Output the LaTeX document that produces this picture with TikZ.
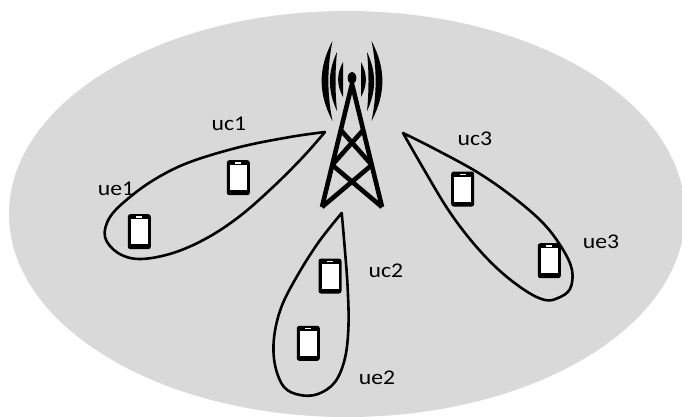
\documentclass[tikz,border=0pt]{standalone}
\usepackage{fontspec}
\setmainfont{Carlito}
\definecolor{cellgray}{RGB}{217,217,217}
\newcommand\lbltext[1]{\scalebox{1.13}[1]{#1}}
\begin{document}
\begin{tikzpicture}[x=1pt,y=-1pt,
  lobe/.style={line width=2.6pt, line join=round, line cap=round},
  towerline/.style={line width=4.6pt, line cap=butt},
  lbl/.style={anchor=base, inner sep=0pt, font=\fontsize{21}{25}\selectfont},
  handset/.pic={
    \fill[black, rounded corners=2.5pt] (-11.5,-17.5) rectangle (11.5,17.5);
    \fill[white] (-8.5,-12.5) rectangle (8.5,12.5);
    \fill[white] (-3,-15.4) rectangle (3,-14.0);
  }]
\useasboundingbox (0,0) rectangle (682,416);

% coverage area of the cell
\fill[cellgray] (347,214) ellipse [x radius=338pt, y radius=203pt];

% base station: lattice tower
\draw[towerline, line join=round] (322,207) -- (352,84) -- (382,207);
\draw[towerline] (340.8,130) -- (371.8,165);
\draw[towerline] (363.2,130) -- (332.2,165);
\draw[towerline] (332.2,165) -- (382,207);
\draw[towerline] (371.8,165) -- (322,207);
\fill (352,78) ellipse [x radius=4.3pt, y radius=6.2pt];

% radio waves on both sides of the antenna
\foreach \s in {1,-1}{
  \fill ({352+\s*(-19.5)},41) .. controls ({352+\s*(-34)},68) and ({352+\s*(-34)},94) .. ({352+\s*(-19.5)},121)
        .. controls ({352+\s*(-25)},94) and ({352+\s*(-25)},68) .. cycle;
  \fill ({352+\s*(-15)},52) .. controls ({352+\s*(-24.5)},72) and ({352+\s*(-24.5)},91) .. ({352+\s*(-15)},111)
        .. controls ({352+\s*(-17)},91) and ({352+\s*(-17)},72) .. cycle;
  \fill ({352+\s*(-9)},62) .. controls ({352+\s*(-15.5)},74) and ({352+\s*(-15.5)},85) .. ({352+\s*(-9)},97)
        .. controls ({352+\s*(-9)},85) and ({352+\s*(-9)},74) .. cycle;
}

% beam 1
\draw[lobe] plot[smooth, tension=0.6] coordinates {
  (325,132) (290,137) (240,147) (190,162) (157,178) (130,197) (110,217)
  (105,237) (118,253) (140,259) (173,253) (207,238) (240,216) (273,187)
  (303,157) (325,132)};
% beam 2
\draw[lobe] plot[smooth, tension=0.6] coordinates {
  (341.7,213) (344.5,245) (347.5,285) (348.5,325) (345,358) (335,382)
  (318,394) (300,395) (284,387) (275,365) (274,338) (281,308) (296,278)
  (318,243) (341.7,213)};
% beam 3
\draw[lobe] plot[smooth, tension=0.6] coordinates {
  (403,133) (433,148) (477,172) (513,197) (543,223) (562,248) (572,270)
  (570,289) (558,298) (545,300) (526,291) (500,271) (474,244) (449,211)
  (426,173) (403,133)};

% user equipment
\pic at (238.3,177.7) {handset};
\pic at (139.3,231.7) {handset};
\pic at (330,276) {handset};
\pic at (308.3,343.3) {handset};
\pic at (462.7,189) {handset};
\pic at (549.3,260.7) {handset};

% labels
\node[lbl] (uc1) at (229,130) {\lbltext{uc1}};
\node[lbl] (ue1) at (116,195) {\lbltext{ue1}};
\node[lbl] (uc2) at (386,277) {\lbltext{uc2}};
\node[lbl] (ue2) at (377,384) {\lbltext{ue2}};
\node[lbl] (uc3) at (475,145) {\lbltext{uc3}};
\node[lbl] (ue3) at (601,248) {\lbltext{ue3}};
\end{tikzpicture}
\end{document}
